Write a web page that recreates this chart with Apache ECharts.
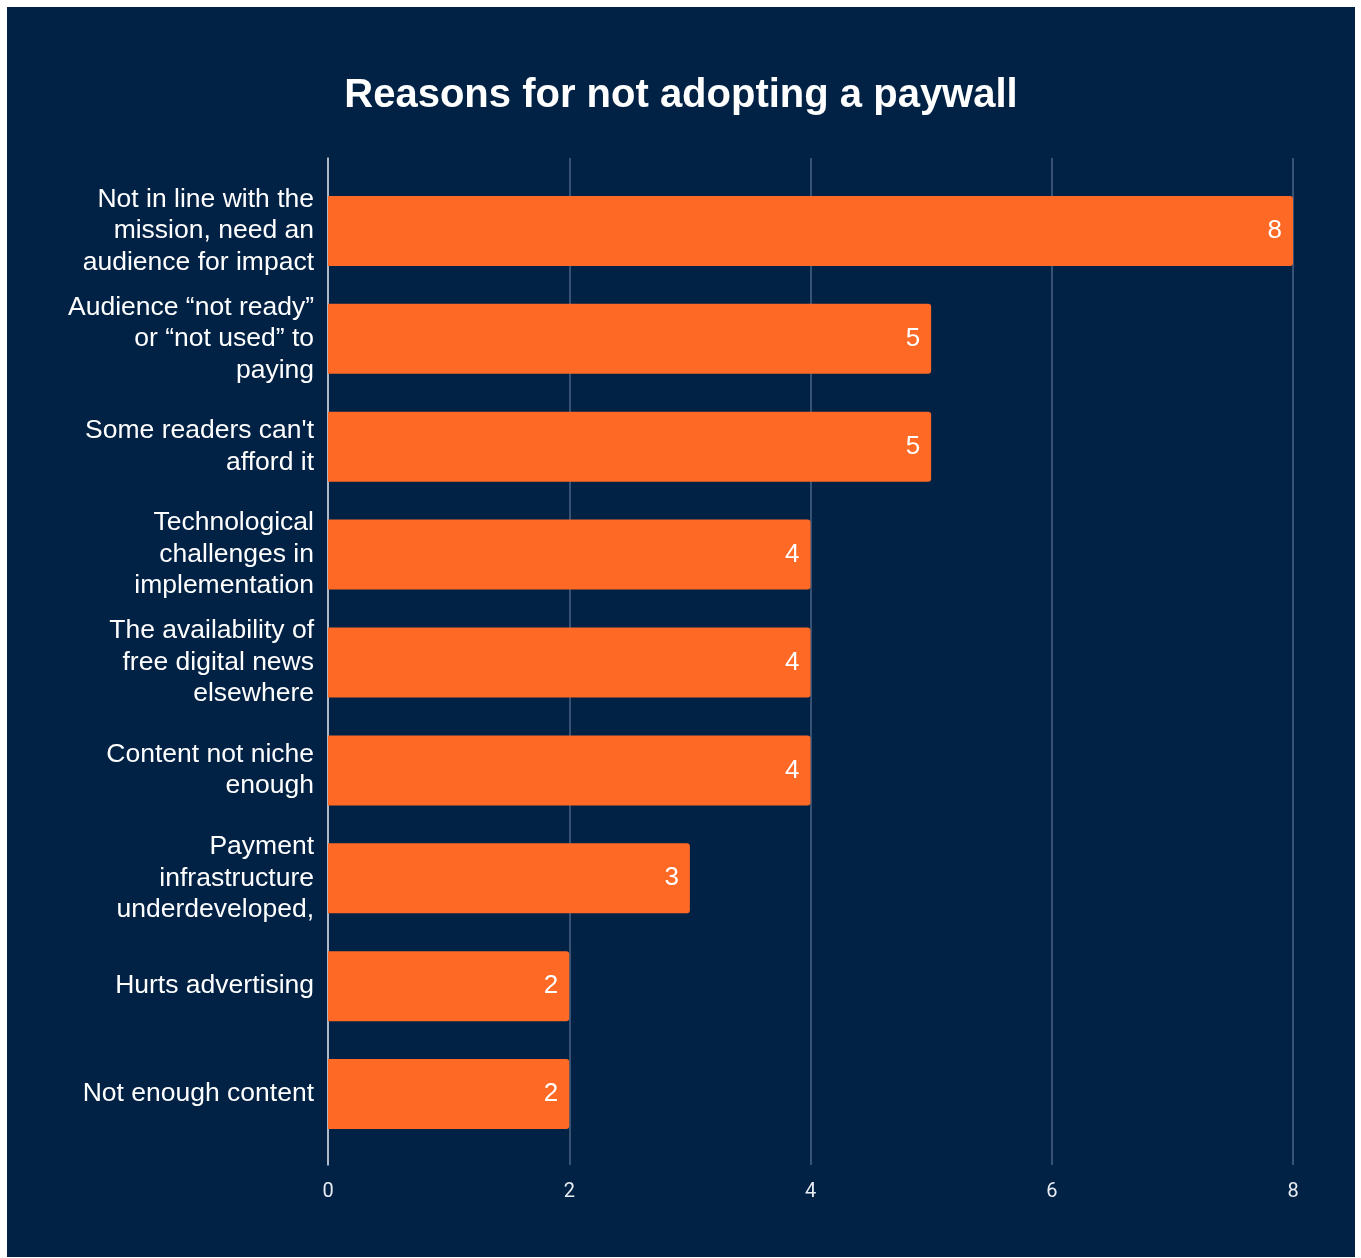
<!DOCTYPE html>
<html>
<head>
<meta charset="utf-8">
<script src="https://cdn.jsdelivr.net/npm/echarts@6/dist/echarts.min.js"></script>
<style>
html,body{margin:0;padding:0;background:#ffffff;}
#chart{position:absolute;left:7px;top:7px;width:1348px;height:1250px;}
</style>
</head>
<body>
<div id="chart"></div>
<script>
const titleText = 'Reasons for not adopting a paywall';
const categories = [
  'Not in line with the\nmission, need an\naudience for impact',
  'Audience \u201cnot ready\u201d\nor \u201cnot used\u201d to\npaying',
  "Some readers can't\nafford it",
  'Technological\nchallenges in\nimplementation',
  'The availability of\nfree digital news\nelsewhere',
  'Content not niche\nenough',
  'Payment\ninfrastructure\nunderdeveloped,',
  'Hurts advertising',
  'Not enough content'
];
const counts = [8, 5, 5, 4, 4, 4, 3, 2, 2];
const xTicks = [0, 2, 4, 6, 8];

const chart = echarts.init(document.getElementById('chart'));
chart.setOption({
  backgroundColor: '#012245',
  animation: false,
  title: {
    text: titleText,
    left: 'center',
    top: 64,
    textStyle: {color: '#ffffff', fontFamily: "'Liberation Sans', Arial, sans-serif", fontWeight: 'bold', fontSize: 40}
  },
  grid: [
    {left: 321, right: 62, top: 170, bottom: 109, containLabel: false},
    {left: 321, right: 62, top: 151, bottom: 92, containLabel: false}
  ],
  xAxis: [
    {gridIndex: 0, type: 'value', min: xTicks[0], max: xTicks[xTicks.length-1], interval: 2, show: false},
    {gridIndex: 1, type: 'value', min: xTicks[0], max: xTicks[xTicks.length-1], interval: 2,
     axisLine: {show: false}, axisTick: {show: false},
     axisLabel: {color: '#e8ecf2', fontFamily: "'Liberation Sans Narrow', 'Roboto', sans-serif", fontSize: 20, margin: 17},
     splitLine: {show: true, lineStyle: {color: '#4a6382', width: 1.5}}}
  ],
  yAxis: [
    {gridIndex: 0, type: 'category', data: categories, inverse: true,
     axisLine: {show: false}, axisTick: {show: false}, splitLine: {show: false},
     axisLabel: {color: '#ffffff', fontFamily: "'Liberation Sans', Arial, sans-serif", fontSize: 26.5, lineHeight: 31.5, margin: 14, align: 'right', padding: [5, 0, 0, 0]}},
    {gridIndex: 1, type: 'value', min: 0, max: 1,
     axisLine: {show: true, onZero: false, lineStyle: {color: '#d8dde5', width: 1.5}},
     axisTick: {show: false}, axisLabel: {show: false}, splitLine: {show: false}}
  ],
  series: [{
    type: 'bar',
    xAxisIndex: 0, yAxisIndex: 0,
    data: counts,
    barWidth: 70,
    itemStyle: {color: '#fe6926', borderRadius: [0, 3, 3, 0]},
    label: {show: true, position: 'insideRight', distance: 11, color: '#ffffff',
            fontFamily: "'Liberation Sans', Arial, sans-serif", fontSize: 26, padding: [6, 0, 0, 0]}
  }]
});
</script>
</body>
</html>
